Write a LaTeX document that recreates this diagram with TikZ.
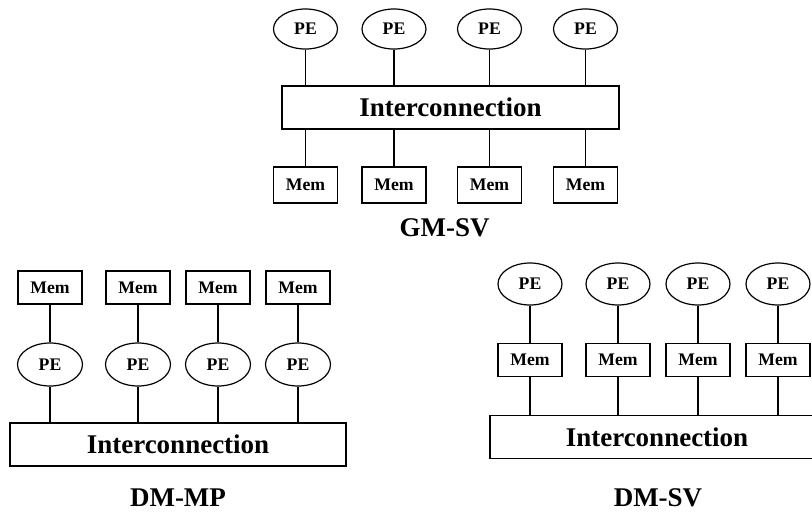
\documentclass[tikz,border=0pt]{standalone}
\usepackage{fontspec}
\setmainfont{Liberation Serif}
\usetikzlibrary{shapes.geometric}
\begin{document}
\begin{tikzpicture}[x=1pt,y=-1pt,line width=1.2pt,
  smallfont/.style={font=\fontsize{17.7}{18}\selectfont\bfseries},
  bigfont/.style={font=\fontsize{27}{28}\selectfont\bfseries},
  pe/.style={draw, ellipse, minimum width=64pt, minimum height=42pt, inner sep=0pt, smallfont},
  mem/.style={draw, rectangle, minimum width=64pt, minimum height=33pt, inner sep=0pt, smallfont},
  net/.style={draw, rectangle, minimum height=43pt, inner sep=0pt, bigfont},
  caption/.style={anchor=base, inner sep=0pt, bigfont}]
\useasboundingbox (0,0) rectangle (812,512);

% Global memory, shared variables
\node[net, minimum width=337pt] (gnet) at (450.5,107.5) {Interconnection};
\foreach \i/\x in {1/305.5,2/394,3/489.5,4/585.5}{
  \node[pe, minimum height=40pt] (gpe\i) at (\x,29) {PE};
  \node[mem, minimum height=36pt] (gmem\i) at (\x,185) {Mem};
  \draw (gpe\i.south) -- (gpe\i.south |- gnet.north);
  \draw (gmem\i.north) -- (gmem\i.north |- gnet.south);
}
\node[caption] (gcap) at (444.7,236.7) {GM-SV};

% Distributed memory, message passing
\node[net, minimum width=336pt] (mnet) at (178,444.5) {Interconnection};
\foreach \i/\x in {1/50,2/138,3/218,4/298}{
  \node[mem] (mmem\i) at (\x,287.5) {Mem};
  \node[pe, minimum height=43pt, minimum width=65pt] (mpe\i) at (\x,364.5) {PE};
  \draw (mmem\i.south) -- (mpe\i.north);
  \draw (mpe\i.south) -- (mpe\i.south |- mnet.north);
}
\node[caption] (mcap) at (178,506.5) {DM-MP};

% Distributed memory, shared variables
\node[net, minimum width=334pt] (snet) at (657,436.8) {Interconnection};
\foreach \i/\x in {1/530,2/618,3/698,4/778}{
  \node[pe] (spe\i) at (\x,284) {PE};
  \node[mem, minimum height=33.5pt] (smem\i) at (\x,360) {Mem};
  \draw (spe\i.south) -- (smem\i.north);
  \draw (smem\i.south) -- (smem\i.south |- snet.north);
}
\node[caption] (scap) at (658,506) {DM-SV};
\end{tikzpicture}
\end{document}
